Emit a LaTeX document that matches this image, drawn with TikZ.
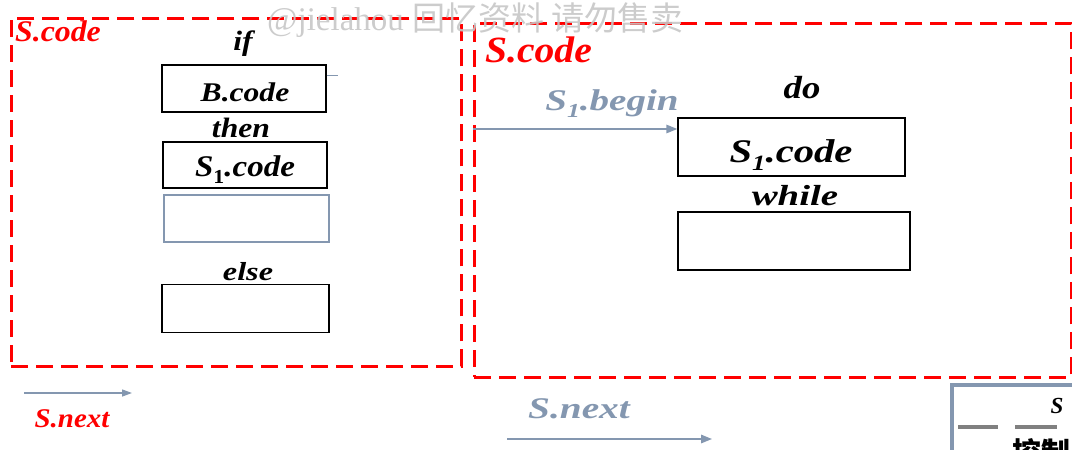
\documentclass[tikz,border=0pt]{standalone}
\usepackage{fontspec}
\setmainfont{Liberation Serif}
\newfontfamily\cjkfont{Noto Sans CJK SC}
\usetikzlibrary{arrows.meta}
\definecolor{sred}{RGB}{255,0,0}
\definecolor{slate}{RGB}{132,151,176}
\definecolor{wmgray}{RGB}{198,198,198}
\definecolor{dashgray}{RGB}{128,128,128}
% horizontal stretch of a label, a size switch in points, and a low subscript
\newcommand{\hstretch}[2]{\scalebox{#1}[1]{#2}}
\newcommand{\fs}[1]{\fontsize{#1}{#1}\selectfont}
\newcommand{\lowsub}[1]{\raisebox{-0.26em}{\scalebox{0.66}{#1}}}

\begin{document}
\begin{tikzpicture}[x=1pt,y=-1pt,
  frame/.style={draw=sred, line width=2.6pt, dash pattern=on 17pt off 8pt, inner sep=0pt, anchor=north west},
  codebox/.style={draw=black, line width=1.4pt, inner sep=0pt},
  slatebox/.style={draw=slate, line width=1.3pt, inner sep=0pt},
  kw/.style={inner sep=0pt, anchor=base, font=\bfseries\itshape, text=black},
  redlbl/.style={kw, text=sred},
  slatelbl/.style={kw, text=slate},
  flow/.style={draw=slate, line width=1.6pt, -{Triangle[length=11pt,width=8.5pt]}},
]
\useasboundingbox (0,0) rectangle (1072,450);
\clip (0,0) rectangle (1072,450);

% ---------- if-then-else ----------
\node[frame, minimum width=450pt, minimum height=348pt] (lframe) at (10,17) {};
\node[redlbl, anchor=base west] (lscode) at (15,41) {\fs{30}\hstretch{1.06}{S.code}};
\node[kw] (kif) at (243,50) {\fs{28}\hstretch{1.13}{if}};
\node[codebox, minimum width=164pt, minimum height=47pt] (bbox) at (244,88.5) {};
\node[kw] (btext) at (245,101) {\fs{27}\hstretch{1.17}{B.code}};
\draw[slate, line width=0.8pt] (bbox.east |- 0,75) -- ++(11,0);
\node[kw] (kthen) at (241,137) {\fs{28}\hstretch{1.13}{then}};
\node[codebox, minimum width=164pt, minimum height=46pt] (s1box) at (245,165) {};
\node[kw] (s1text) at (245,176) {\fs{30}\hstretch{1.1}{S\lowsub{\upshape 1}.code}};
\node[slatebox, minimum width=165pt, minimum height=47pt] (gotobox) at (246.5,218.5) {};
\node[kw] (kelse) at (248,280) {\fs{26}\hstretch{1.24}{else}};
\node[codebox, minimum width=167pt, minimum height=48pt] (s2box) at (245.5,308.5) {};

\coordinate (lnexta) at (24,393);
\coordinate (lnextb) at (132,393);
\draw[flow, line width=1.3pt, -{Triangle[length=10pt,width=7pt]}] (lnexta) -- (lnextb);
\node[redlbl] (lsnext) at (72,427) {\fs{27}\hstretch{1.07}{S.next}};

% ---------- do-while ----------
\node[frame, minimum width=597pt, minimum height=354pt] (rframe) at (473,22) {};
\node[redlbl, anchor=base west] (rscode) at (485,62) {\fs{37}\hstretch{1.07}{S.code}};
\node[slatelbl] (s1begin) at (612,110) {\fs{30}\hstretch{1.3}{S\lowsub{1}.begin}};
\node[kw] (kdo) at (802,98) {\fs{32}\hstretch{1.15}{do}};
\node[codebox, minimum width=227pt, minimum height=58pt] (rs1box) at (791.5,147) {};
\node[kw] (rs1text) at (791,162) {\fs{33}\hstretch{1.23}{S\lowsub{1}.code}};
\node[kw] (kwhile) at (795,205) {\fs{29}\hstretch{1.34}{while}};
\node[codebox, minimum width=232pt, minimum height=58pt] (bbox2) at (794,241) {};

\coordinate (beginstart) at (473,129);
\draw[flow] (beginstart) -- (rs1box.west |- beginstart);

\node[slatelbl] (rsnext) at (579,418) {\fs{30}\hstretch{1.31}{S.next}};
\coordinate (rnexta) at (507,439);
\coordinate (rnextb) at (712,439);
\draw[flow] (rnexta) -- (rnextb);

% ---------- legend panel ----------
\node[draw=slate, line width=4pt, inner sep=0pt, anchor=north west,
      minimum width=200pt, minimum height=120pt] (legend) at (950,383) {};
\node[kw] (legs) at (1057,413) {\fs{23}S};
\draw[dashgray, line width=4pt] (958,427) -- (998,427) (1015,427) -- (1057,427);
\node[inner sep=0pt, anchor=base west] (legtext) at (1012,463) {\cjkfont\bfseries\fs{29}控制};

% ---------- watermark ----------
\node[inner sep=0pt, anchor=base west, text=wmgray, text opacity=0.9] (wm) at (267,30)
  {\fs{33}@jielahou {\cjkfont 回忆资料 请勿售卖}};
\end{tikzpicture}
\end{document}
